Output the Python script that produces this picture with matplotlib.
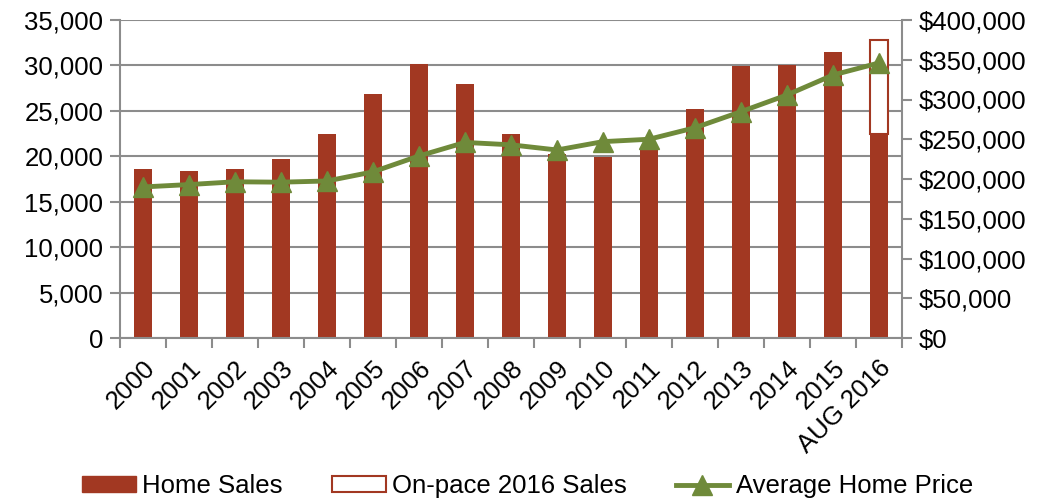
import matplotlib.pyplot as plt
import numpy as np
from matplotlib.ticker import FuncFormatter
from matplotlib.lines import Line2D
from matplotlib.patches import Patch

plt.rcParams['font.family'] = ['Liberation Sans', 'DejaVu Sans']

years = ["2000", "2001", "2002", "2003", "2004", "2005", "2006", "2007", "2008",
         "2009", "2010", "2011", "2012", "2013", "2014", "2015", "AUG 2016"]
home_sales = [18600, 18350, 18650, 19700, 22500, 26850, 30200, 28000, 22400,
              20300, 19900, 20800, 25150, 29950, 30100, 31500, 22500]
onpace_2016 = 32800
avg_price = [190000, 193000, 196500, 196000, 197500, 209000, 229000, 246000, 243000,
             236500, 247000, 250000, 264500, 284700, 305700, 330800, 346000]

bar_red = "#A23822"
green = "#6F8A3A"
grid_gray = "#8C8C8C"
fs = 18.5

fig = plt.figure(figsize=(10.55, 5), dpi=100)
ax = fig.add_axes([120/1055, 1-338/500, 782/1055, 318/500])
ax2 = ax.twinx()

x = np.arange(len(years))
ax.bar(x, home_sales, width=0.41, color=bar_red, zorder=2)
# on-pace outline for the last bar
ax.bar(x[-1], onpace_2016 - home_sales[-1], bottom=home_sales[-1], width=0.41,
       facecolor="white", edgecolor=bar_red, linewidth=1.5, zorder=2)

ax2.plot(x, avg_price, color=green, linewidth=3.5, marker="^", markersize=15,
         solid_joinstyle="round", zorder=3)

ax.set_xlim(-0.5, len(years) - 0.5)
ax.set_ylim(0, 35000)
ax.set_yticks(np.arange(0, 35001, 5000))
ax.yaxis.set_major_formatter(FuncFormatter(lambda v, p: f"{int(v):,}"))
ax2.set_ylim(0, 400000)
ax2.set_yticks(np.arange(0, 400001, 50000))
ax2.yaxis.set_major_formatter(FuncFormatter(lambda v, p: f"${int(v):,}"))

ax.grid(axis="y", color=grid_gray, linewidth=1.5, zorder=0)
ax.set_axisbelow(True)
ax.set_zorder(ax2.get_zorder() - 1)
ax.patch.set_visible(False)
ax2.patch.set_visible(False)

ax.set_xticks(x)
ax.set_xticklabels(years, rotation=45, ha="right", rotation_mode="anchor")
ax.set_xticks(np.arange(-0.5, len(years), 1), minor=True)
ax.tick_params(axis="x", which="major", length=0, labelsize=fs, pad=13)
ax.tick_params(axis="x", which="minor", length=7, color=grid_gray, width=1.5)
ax.tick_params(axis="y", length=7, color=grid_gray, width=1.5, labelsize=fs, pad=5)
ax2.tick_params(axis="y", length=7, color=grid_gray, width=1.5, labelsize=fs, pad=5)

for a in (ax, ax2):
    for s in a.spines.values():
        s.set_visible(False)
ax.spines["left"].set_visible(True)
ax.spines["bottom"].set_visible(True)
ax2.spines["right"].set_visible(True)
for s in (ax.spines["left"], ax.spines["bottom"], ax2.spines["right"]):
    s.set_color(grid_gray)
    s.set_linewidth(1.5)

handles = [Patch(facecolor=bar_red, edgecolor=bar_red),
           Patch(facecolor="white", edgecolor=bar_red, linewidth=1.5),
           Line2D([0], [0], color=green, linewidth=3.5, marker="^", markersize=15)]
labels = ["Home Sales", "On-pace 2016 Sales", "Average Home Price"]
fig.legend(handles, labels, loc="center", bbox_to_anchor=(0.5, 1 - 486/500), ncol=3,
           frameon=False, fontsize=fs, handlelength=2.1, handleheight=0.55,
           handletextpad=0.25, columnspacing=1.9, borderpad=0)

fig.savefig("out.png", dpi=100)
